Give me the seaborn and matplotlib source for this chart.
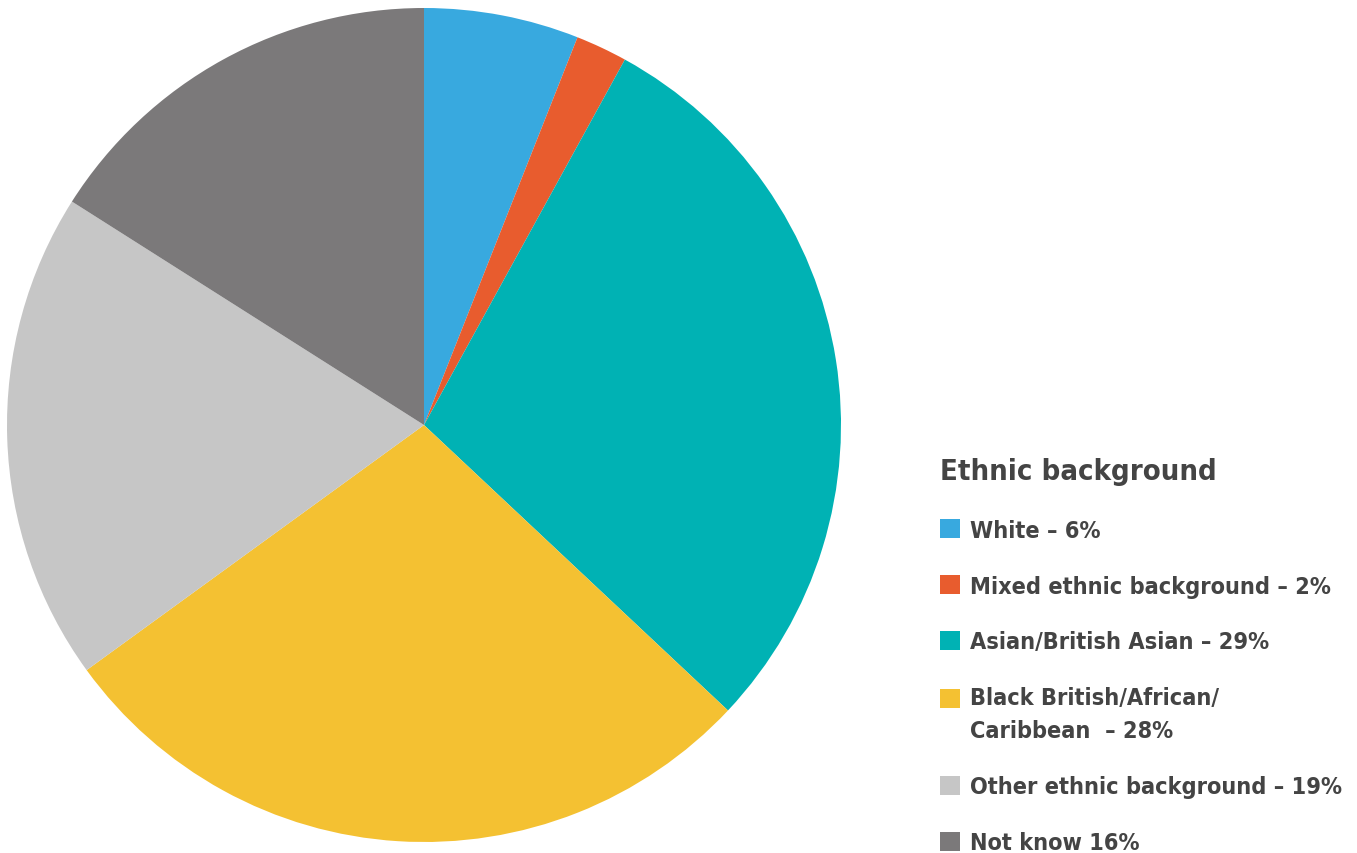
import matplotlib
matplotlib.use("Agg")
import matplotlib.pyplot as plt
import matplotlib.patches as mpatches
from matplotlib.legend_handler import HandlerPatch
import seaborn as sns

# data
categories = ["White", "Mixed ethnic background", "Asian/British Asian",
              "Black British/African/\nCaribbean", "Other ethnic background", "Not know"]
shares = [6, 2, 29, 28, 19, 16]
legend_labels = ["White \u2013 6%", "Mixed ethnic background \u2013 2%",
                 "Asian/British Asian \u2013 29%",
                 "Black British/African/\nCaribbean  \u2013 28%",
                 "Other ethnic background \u2013 19%", "Not know 16%"]
colors = ["#38A9DF", "#E85C2E", "#00B2B4", "#F4C132", "#C6C6C6", "#7B797A"]

sns.set_theme(style="white")
plt.rcParams["font.family"] = ["DejaVu Sans"]
plt.rcParams["font.stretch"] = "condensed"
text_color = "#444444"


class SquareHandler(HandlerPatch):
    # square swatch; two-line labels get the swatch next to the first line
    def __init__(self, shift=0, **kw):
        super().__init__(**kw)
        self.shift = shift

    def create_artists(self, legend, orig_handle, xdescent, ydescent,
                       width, height, fontsize, trans):
        r = mpatches.Rectangle((-xdescent, -ydescent + self.shift), width, height,
                               facecolor=orig_handle.get_facecolor(),
                               edgecolor="none", transform=trans)
        return [r]


fig = plt.figure(figsize=(13.57, 8.54), dpi=100)
ax = fig.add_axes([7 / 1357, 11 / 854, 834 / 1357, 834 / 854])

wedges, _ = ax.pie(shares, colors=colors, startangle=90, counterclock=False,
                   radius=1, wedgeprops=dict(linewidth=0, antialiased=True))
ax.set_xlim(-1, 1)
ax.set_ylim(-1, 1)
ax.set_axis_off()

handler_map = {w: SquareHandler() for w in wedges}
handler_map[wedges[3]] = SquareHandler(shift=12)

leg = fig.legend(wedges, legend_labels, loc="upper left",
                 bbox_to_anchor=(931 / 1357, 1 - 449 / 854),
                 frameon=False, fontsize=16.8, title="Ethnic background",
                 title_fontproperties=dict(size=21, weight="bold", stretch="condensed"),
                 handlelength=0.86, handleheight=0.86, handletextpad=0.42,
                 labelspacing=1.41, alignment="left", borderaxespad=0,
                 handler_map=handler_map)
for t in leg.get_texts():
    t.set_color(text_color)
    t.set_fontweight("bold")
    t.set_fontstretch("condensed")
    t.set_linespacing(1.56)
leg.get_title().set_color(text_color)
leg._legend_box.sep = 24

fig.savefig("out.png", dpi=100)
